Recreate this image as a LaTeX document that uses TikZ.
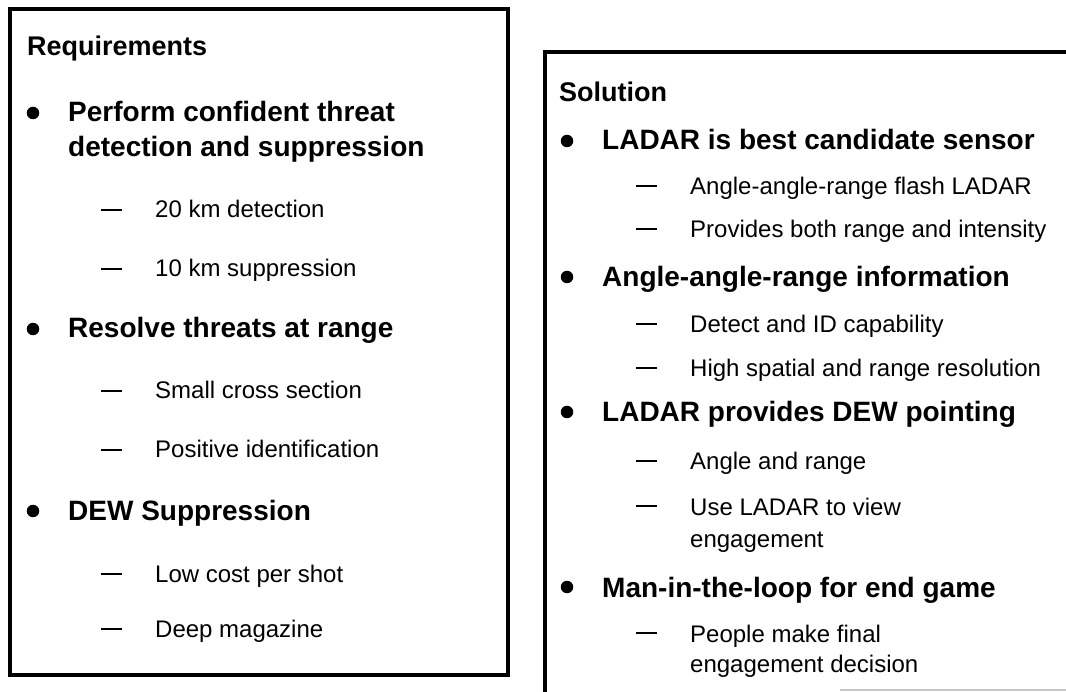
\documentclass[tikz,border=0pt]{standalone}
\usepackage{fontspec}
\setmainfont{Liberation Sans}
\usepackage{tikz}
\tikzset{head/.style={anchor=base west, inner sep=0pt, font=\fontsize{27}{32}\selectfont\bfseries}}
\tikzset{main/.style={anchor=base west, inner sep=0pt, font=\fontsize{28}{34}\selectfont\bfseries}}
\tikzset{sub/.style={anchor=base west, inner sep=0pt, font=\fontsize{24}{30}\selectfont}}
\tikzset{dot/.style={circle, fill=black, inner sep=0pt, minimum size=12.5pt}}
\tikzset{dashline/.style={line width=2.5pt}}
\tikzset{frame/.style={line width=4pt}}

\begin{document}
\begin{tikzpicture}[x=1pt,y=-1pt]
\clip (0,0) rectangle (1066,692);
\fill[white] (0,0) rectangle (1066,692);
% left panel
\draw[frame] (9.5,9) rectangle (508,675);
\node[head] (req) at (27,56) {Requirements};
\node[dot] (rb1) at (33,113) {};
\node[main] (r1a) at (68,122) {Perform confident threat};
\node[main] (r1b) at (68,157) {detection and suppression};
\draw[dashline] (101,210) -- (122,210);
\node[sub] (r11) at (155,218) {20 km detection};
\draw[dashline] (101,269) -- (122,269);
\node[sub] (r12) at (155,277) {10 km suppression};
\node[dot] (rb2) at (33,329) {};
\node[main] (r2) at (68,338) {Resolve threats at range};
\draw[dashline] (101,391) -- (122,391);
\node[sub] (r21) at (155,399) {Small cross section};
\draw[dashline] (101,450) -- (122,450);
\node[sub] (r22) at (155,458) {Positive identification};
\node[dot] (rb3) at (33,511) {};
\node[main] (r3) at (68,520) {DEW Suppression};
\draw[dashline] (101,574) -- (122,574);
\node[sub] (r31) at (155,582) {Low cost per shot};
\draw[dashline] (101,629) -- (122,629);
\node[sub] (r32) at (155,637) {Deep magazine};
% right panel
\draw[frame] (1080,52) -- (545,52) -- (545,700);
\draw[gray!45, line width=1.5pt] (840,690) -- (1066,690);
\node[head] (sol) at (559,102) {Solution};
\node[dot] (sb1) at (567,141) {};
\node[main] (s1) at (602,150) {LADAR is best candidate sensor};
\draw[dashline] (636,186) -- (657,186);
\node[sub] (s11) at (690,195) {Angle-angle-range flash LADAR};
\draw[dashline] (636,229) -- (657,229);
\node[sub] (s12) at (690,238) {Provides both range and intensity};
\node[dot] (sb2) at (567,277) {};
\node[main] (s2) at (602,287) {Angle-angle-range information};
\draw[dashline] (636,324) -- (657,324);
\node[sub] (s21) at (690,333) {Detect and ID capability};
\draw[dashline] (636,368) -- (657,368);
\node[sub] (s22) at (690,377) {High spatial and range resolution};
\node[dot] (sb3) at (567,412) {};
\node[main] (s3) at (602,422) {LADAR provides DEW pointing};
\draw[dashline] (636,461) -- (657,461);
\node[sub] (s31) at (690,470) {Angle and range};
\draw[dashline] (636,506) -- (657,506);
\node[sub] (s32a) at (690,515) {Use LADAR to view};
\node[sub] (s32b) at (690,547) {engagement};
\node[dot] (sb4) at (567,587) {};
\node[main] (s4) at (602,597) {Man-in-the-loop for end game};
\draw[dashline] (636,633) -- (657,633);
\node[sub] (s41a) at (690,642) {People make final};
\node[sub] (s41b) at (690,672) {engagement decision};
\end{tikzpicture}
\end{document}
